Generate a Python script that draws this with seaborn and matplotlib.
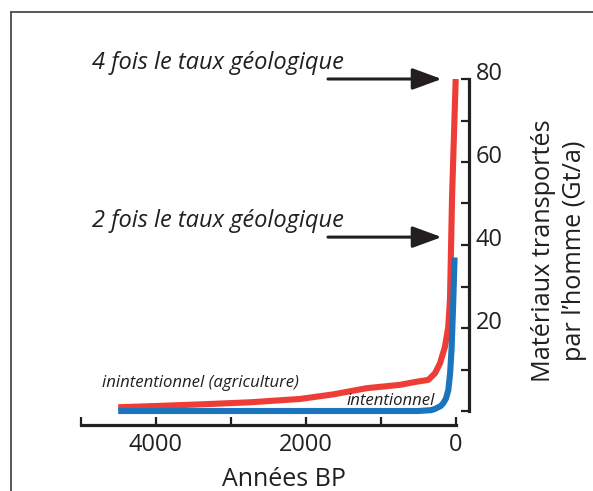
import numpy as np
import pandas as pd
import matplotlib
matplotlib.use('Agg')
import matplotlib.pyplot as plt
import matplotlib.transforms as mtransforms
from matplotlib.lines import Line2D
import seaborn as sns

# Data (years BP, Gt per year)
red_years = [4500, 4000, 3400, 2740, 2076, 1635, 1186, 743, 540, 365, 276, 209, 143, 99, 76, 48, 0]
red_values = [0.9, 1.2, 1.6, 2.1, 2.9, 4.0, 5.5, 6.3, 7.0, 7.5, 9.1, 11.5, 15.5, 20.3, 27.0, 52.0, 80.0]
blue_years = [4500, 2000, 500, 330, 276, 200, 165, 130, 99, 75, 55, 35, 15]
blue_values = [0.0, 0.0, 0.0, 0.2, 0.5, 1.2, 1.9, 3.0, 5.0, 9.0, 15.0, 25.0, 37.0]
x_major = [0, 2000, 4000]
x_minor = [1000, 3000, 5000]
y_major = [20, 40, 60, 80]
y_minor = [0, 10, 30, 50, 70]

red = '#EE3D37'
blue = '#1B75BC'
ink = '#231F20'

sns.set_style('white')
plt.rcParams['font.family'] = ['Open Sans', 'DejaVu Sans']

df = pd.concat([
    pd.DataFrame({'annees': red_years, 'valeur': red_values, 'serie': 'inintentionnel'}),
    pd.DataFrame({'annees': blue_years, 'valeur': blue_values, 'serie': 'intentionnel'}),
])

fig = plt.figure(figsize=(5.93, 4.91), dpi=100)
ax = fig.add_axes([80.7 / 593, 80 / 491, 375 / 593, 332 / 491])

sns.lineplot(data=df, x='annees', y='valeur', hue='serie', sort=False,
             palette={'inintentionnel': red, 'intentionnel': blue},
             linewidth=4.4, legend=False, ax=ax, solid_capstyle='butt',
             solid_joinstyle='round', clip_on=False)

ax.set_xlim(5000, 0)
ax.set_ylim(0, 80)

# spines: only bottom and right, pushed outward
for s in ['top', 'left']:
    ax.spines[s].set_visible(False)
for s in ['bottom', 'right']:
    ax.spines[s].set_color(ink)
    ax.spines[s].set_linewidth(2.3)
ax.spines['bottom'].set_position(('outward', 10))
ax.spines['right'].set_position(('outward', 9.6))

ax.yaxis.tick_right()
ax.yaxis.set_label_position('right')
ax.set_xticks(x_major)
ax.set_xticks(x_minor, minor=True)
ax.set_yticks(y_major)
ax.set_yticks(y_minor, minor=True)
ax.set_xticklabels([str(v) for v in x_major])
ax.set_yticklabels([str(v) for v in y_major])
ax.tick_params(axis='both', which='both', direction='in', length=5.5, width=1.6,
               color=ink, labelcolor=ink, labelsize=17)
ax.tick_params(axis='x', which='both', pad=6, bottom=True, top=False)
ax.tick_params(axis='y', which='both', pad=5, left=False, right=True)

# y tick labels sit a little above their ticks
shift = mtransforms.ScaledTranslation(0, 8 / 100, fig.dpi_scale_trans)
for lab in ax.get_yticklabels():
    lab.set_transform(lab.get_transform() + shift)

ax.set_xlabel('Années BP', fontsize=18, color=ink, va='baseline')
ax.xaxis.set_label_coords(0.541, -0.225)
ax.set_ylabel('Matériaux transportés\npar l’homme (Gt/a)', fontsize=18.2, color=ink,
              rotation=90, va='center', ha='center', multialignment='center', linespacing=1.3)
ax.yaxis.set_label_coords(1.275, 0.482)

# annotations
for label, y_text, y_arrow in [('4 fois le taux géologique', 82.4, 80.0),
                               ('2 fois le taux géologique', 44.3, 41.9)]:
    ax.text(4853, y_text, label, fontsize=17, style='italic', color=ink,
            ha='left', va='baseline', clip_on=False)
    ax.annotate('', xy=(187, y_arrow), xytext=(1703, y_arrow), annotation_clip=False,
                arrowprops=dict(arrowstyle='-|>,head_length=0.9,head_width=0.33',
                                mutation_scale=20, color=ink, lw=2.2, shrinkA=0, shrinkB=0))

ax.text(4716, 5.8, 'inintentionnel (agriculture)', fontsize=12.1, style='italic',
        color=ink, ha='left', va='baseline')
ax.text(1449, 1.45, 'intentionnel', fontsize=12.1, style='italic',
        color=ink, ha='left', va='baseline')

# partial frame around the figure (left and top edges)
fig.add_artist(Line2D([11 / 593, 11 / 593], [-0.05, 1 - 12 / 491],
                      transform=fig.transFigure, color='#4a4a4a', lw=1.3))
fig.add_artist(Line2D([11 / 593, 1.05], [1 - 12 / 491, 1 - 12 / 491],
                      transform=fig.transFigure, color='#4a4a4a', lw=1.3))

fig.savefig('out.png', dpi=100)
